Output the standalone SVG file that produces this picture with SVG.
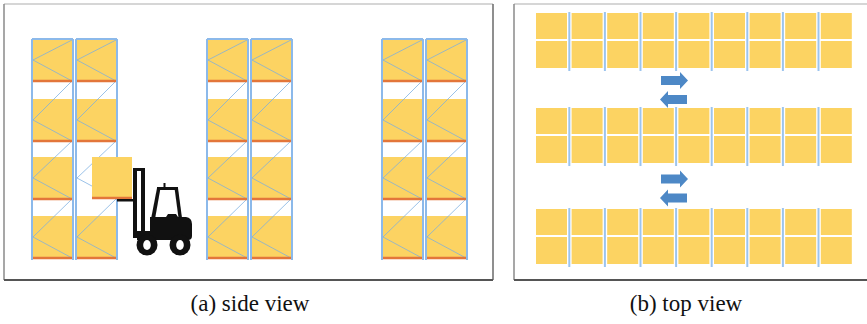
<svg xmlns="http://www.w3.org/2000/svg" xmlns:xlink="http://www.w3.org/1999/xlink" width="867" height="324" viewBox="0 0 867 324">
  <style>
    .load { fill: #fcd362; }
    .post { stroke: #8cb9ea; stroke-width: 2; fill: none; }
    .beam { stroke: #e3763a; stroke-width: 2.5; }
    .brace { stroke: #7aaee0; stroke-width: 1; fill: none; opacity: 0.75; }
    .rail { stroke: #9cc4ee; stroke-width: 2; }
    .arrow { fill: #4d88c6; }
    .ink { fill: #111; }
    .caption { font-family: "Liberation Serif", "Times New Roman", serif; font-size: 23px; fill: #111; text-anchor: middle; }
  </style>
  <defs>
    <!-- pallet loads on the four levels of a bay -->
    <rect id="lv1" class="load" x="1" y="40" width="39" height="41"/>
    <rect id="lv2" class="load" x="1" y="99" width="39" height="42"/>
    <rect id="lv3" class="load" x="1" y="157" width="39" height="42"/>
    <rect id="lv4" class="load" x="1" y="216" width="39" height="42"/>
    <!-- bay structure: bracing, beams, posts -->
    <g id="frame">
      <polyline class="brace" points="40,40 1,60 40,81 1,120 40,141 1,178 40,199 1,237 40,258"/>
      <line class="beam" x1="1" y1="81" x2="40" y2="81"/>
      <line class="beam" x1="1" y1="141" x2="40" y2="141"/>
      <line class="beam" x1="1" y1="258" x2="40" y2="258"/>
      <line class="post" x1="0" y1="39" x2="0" y2="260"/>
      <line class="post" x1="41" y1="39" x2="41" y2="260"/>
      <line class="post" x1="0" y1="39" x2="41" y2="39" stroke-width="1.5"/>
    </g>
    <line id="beam3" class="beam" x1="1" y1="199" x2="40" y2="199"/>
    <!-- a fully loaded bay -->
    <g id="bay">
      <use xlink:href="#lv1"/>
      <use xlink:href="#lv2"/>
      <use xlink:href="#lv3"/>
      <use xlink:href="#lv4"/>
      <use xlink:href="#frame"/>
      <use xlink:href="#beam3"/>
    </g>
    <!-- one storage row seen from above: two rows of nine pallets with uprights -->
    <g id="row">
      <rect class="load" x="536" y="0" width="31" height="26"/>
      <rect class="load" x="571.6" y="0" width="31" height="26"/>
      <rect class="load" x="607.2" y="0" width="31" height="26"/>
      <rect class="load" x="642.8" y="0" width="31" height="26"/>
      <rect class="load" x="678.4" y="0" width="31" height="26"/>
      <rect class="load" x="714" y="0" width="31" height="26"/>
      <rect class="load" x="749.6" y="0" width="31" height="26"/>
      <rect class="load" x="785.2" y="0" width="31" height="26"/>
      <rect class="load" x="820.8" y="0" width="31" height="26"/>
      <rect class="load" x="536" y="28" width="31" height="27"/>
      <rect class="load" x="571.6" y="28" width="31" height="27"/>
      <rect class="load" x="607.2" y="28" width="31" height="27"/>
      <rect class="load" x="642.8" y="28" width="31" height="27"/>
      <rect class="load" x="678.4" y="28" width="31" height="27"/>
      <rect class="load" x="714" y="28" width="31" height="27"/>
      <rect class="load" x="749.6" y="28" width="31" height="27"/>
      <rect class="load" x="785.2" y="28" width="31" height="27"/>
      <rect class="load" x="820.8" y="28" width="31" height="27"/>
      <line class="rail" x1="569.3" y1="-1" x2="569.3" y2="58"/>
      <line class="rail" x1="604.9" y1="-1" x2="604.9" y2="58"/>
      <line class="rail" x1="640.5" y1="-1" x2="640.5" y2="58"/>
      <line class="rail" x1="676.1" y1="-1" x2="676.1" y2="58"/>
      <line class="rail" x1="711.7" y1="-1" x2="711.7" y2="58"/>
      <line class="rail" x1="747.3" y1="-1" x2="747.3" y2="58"/>
      <line class="rail" x1="782.9" y1="-1" x2="782.9" y2="58"/>
      <line class="rail" x1="818.5" y1="-1" x2="818.5" y2="58"/>
    </g>
    <!-- two-way aisle traffic arrows -->
    <g id="twoway">
      <path class="arrow" d="M661,-4.5 H680 V-8.5 L688,0 L680,8.5 V4.5 H661 Z"/>
      <path class="arrow" d="M687,14.5 H668 V10.5 L660,19 L668,27.5 V23.5 H687 Z"/>
    </g>
  </defs>

  <rect width="867" height="324" fill="#ffffff"/>

  <!-- side view frame -->
  <g id="side-frame">
    <line x1="4" y1="4" x2="493" y2="4" stroke="#c9c9c9" stroke-width="1.5"/>
    <line x1="4" y1="4" x2="4" y2="280" stroke="#8a8a8a" stroke-width="1.5"/>
    <line x1="493" y1="4" x2="493" y2="280" stroke="#6a6a6a" stroke-width="1.5"/>
    <line x1="4" y1="280" x2="493" y2="280" stroke="#555" stroke-width="2"/>
  </g>

  <!-- rack rows, side view; the third level of bay 2 in rack 1 is being emptied -->
  <g id="rack-1">
    <use xlink:href="#bay" x="32"/>
    <g transform="translate(76,0)">
      <use xlink:href="#lv1"/>
      <use xlink:href="#lv2"/>
      <use xlink:href="#lv4"/>
      <use xlink:href="#frame"/>
    </g>
  </g>
  <g id="rack-2">
    <use xlink:href="#bay" x="207"/>
    <use xlink:href="#bay" x="251"/>
  </g>
  <g id="rack-3">
    <use xlink:href="#bay" x="382"/>
    <use xlink:href="#bay" x="426"/>
  </g>

  <!-- forklift carrying a pallet -->
  <g id="forklift">
    <rect class="load" x="92" y="157" width="40" height="41"/>
    <line class="beam" x1="92" y1="198" x2="132" y2="198"/>
    <rect class="ink" x="117" y="199" width="18" height="2.5"/>
    <!-- mast -->
    <rect class="ink" x="133" y="169" width="4" height="69"/>
    <rect class="ink" x="141" y="169" width="4" height="66"/>
    <rect class="ink" x="133" y="168" width="12" height="3"/>
    <!-- cab -->
    <rect class="ink" x="157" y="187" width="21" height="3"/>
    <rect class="ink" x="163.5" y="183" width="2" height="5"/>
    <polygon class="ink" points="157,188 160.5,188 155,219 151,219"/>
    <polygon class="ink" points="174.5,188 178,188 182,218 178.5,218"/>
    <!-- body and counterweight -->
    <path class="ink" d="M150,217 H166 L168,214 H176 L178,217 H186 Q192,218 192,224 V236 Q192,240 188,240 H137 V231 H150 Z"/>
    <!-- wheels -->
    <circle class="ink" cx="147" cy="245" r="10.5"/>
    <circle class="ink" cx="180" cy="245" r="10.5"/>
    <ellipse cx="147" cy="245" rx="3.8" ry="5" fill="#fff"/>
    <ellipse cx="180" cy="245" rx="3.8" ry="5" fill="#fff"/>
  </g>

  <!-- top view frame -->
  <g id="top-frame">
    <line x1="514" y1="4" x2="867" y2="4" stroke="#c9c9c9" stroke-width="1.5"/>
    <line x1="514" y1="4" x2="514" y2="280" stroke="#8a8a8a" stroke-width="1.5"/>
    <line x1="514" y1="280" x2="867" y2="280" stroke="#555" stroke-width="2"/>
  </g>

  <!-- rack rows, top view -->
  <g id="row-1"><use xlink:href="#row" y="13"/></g>
  <g id="row-2"><use xlink:href="#row" y="108"/></g>
  <g id="row-3"><use xlink:href="#row" y="209"/></g>

  <!-- aisle traffic -->
  <g id="aisle-1"><use xlink:href="#twoway" y="80.5"/></g>
  <g id="aisle-2"><use xlink:href="#twoway" y="179"/></g>

  <!-- captions -->
  <text class="caption" x="250" y="311">(a) side view</text>
  <text class="caption" x="686" y="311">(b) top view</text>
</svg>
